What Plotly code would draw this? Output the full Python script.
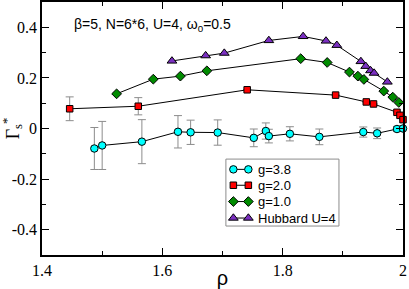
import plotly.graph_objects as go

# g = 3.8 (cyan circles)
rho_g38 = [1.487, 1.500, 1.566, 1.626, 1.647, 1.692, 1.752, 1.772, 1.777, 1.812, 1.861, 1.934, 1.957, 1.990, 2.000]
gam_g38 = [-0.079, -0.067, -0.052, -0.013, -0.015, -0.016, -0.037, -0.010, -0.030, -0.021, -0.033, -0.014, -0.019, -0.002, 0.000]
err_g38 = [0.083, 0.095, 0.087, 0.064, 0.048, 0.050, 0.035, 0.032, 0.027, 0.028, 0.031, 0.020, 0.021, 0.010, 0.010]

# g = 2.0 (red squares)
rho_g20 = [1.446, 1.560, 1.741, 1.888, 1.939, 1.951, 1.990, 1.995, 2.000]
gam_g20 = [0.078, 0.088, 0.153, 0.132, 0.105, 0.097, 0.064, 0.052, 0.035]
err_g20 = [0.047, 0.034, None, None, None, None, None, None, None]

# g = 1.0 (green diamonds)
rho_g10 = [1.524, 1.585, 1.630, 1.674, 1.830, 1.874, 1.911, 1.925, 1.935, 1.968, 1.983, 1.993]
gam_g10 = [0.137, 0.195, 0.207, 0.228, 0.276, 0.261, 0.223, 0.207, 0.194, 0.148, 0.124, 0.103]

# Hubbard U = 4 (violet triangles)
rho_hub = [1.616, 1.672, 1.703, 1.777, 1.834, 1.872, 1.890, 1.930, 1.938, 1.946, 1.952, 1.974]
gam_hub = [0.267, 0.288, 0.298, 0.348, 0.364, 0.346, 0.329, 0.265, 0.246, 0.229, 0.219, 0.184]

series_names = ["g=3.8", "g=2.0", "g=1.0", "Hubbard U=4"]

x_ticks = [1.4, 1.6, 1.8, 2.0]
x_ticklabels = ["1.4", "1.6", "1.8", "2"]
y_ticks = [-0.4, -0.2, 0.0, 0.2, 0.4]
y_ticklabels = ["-0.4", "-0.2", "0", "0.2", "0.4"]

styles = [
    dict(symbol="circle", size=7.5, color="#00FFFF"),
    dict(symbol="square", size=6.5, color="#FF0000"),
    dict(symbol="diamond", size=7.5, color="#008B00"),
    dict(symbol="triangle-up", size=8.5, color="#7A2FC0"),
]
err_style = dict(type="data", visible=True, color="#8c8c8c", thickness=1, width=4)

fig = go.Figure()
data = [
    (rho_g38, gam_g38, err_g38),
    (rho_g20, gam_g20, err_g20),
    (rho_g10, gam_g10, None),
    (rho_hub, gam_hub, None),
]
for (xs, ys, es), name, st in zip(data, series_names, styles):
    kw = {}
    if es is not None:
        kw["error_y"] = dict(array=es, **err_style)
    fig.add_trace(go.Scatter(
        x=xs, y=ys, mode="lines+markers", name=name, showlegend=False,
        line=dict(color="black", width=1),
        marker=dict(symbol=st["symbol"], size=st["size"], color=st["color"],
                    line=dict(color="black", width=1)),
        cliponaxis=False, **kw,
    ))

# ---- hand-built legend (two markers joined by a line, as in the original) ----
leg_x0, leg_x1, leg_y0, leg_y1 = 0.5094, 0.8226, 0.1145, 0.3791
key_xa, key_xb, txt_x = 0.5301, 0.5716, 0.5923
row_y = [0.3385, 0.2757, 0.2113, 0.1461]

fig.add_shape(type="rect", xref="paper", yref="paper",
              x0=leg_x0, x1=leg_x1, y0=leg_y0, y1=leg_y1,
              line=dict(color="#8c8c8c", width=1), fillcolor="white", layer="below")
for name, st, ry in zip(series_names, styles, row_y):
    fig.add_trace(go.Scatter(
        x=[key_xa, key_xb], y=[ry, ry], xaxis="x2", yaxis="y2",
        mode="lines+markers", showlegend=False, hoverinfo="skip",
        line=dict(color="black", width=1),
        marker=dict(symbol=st["symbol"], size=st["size"], color=st["color"],
                    line=dict(color="black", width=1)),
        cliponaxis=False,
    ))
    fig.add_annotation(x=txt_x, y=ry, xref="paper", yref="paper",
                       xanchor="left", yanchor="middle", text=name, showarrow=False,
                       font=dict(family="Liberation Sans", size=13, color="black"))

serif = "Liberation Serif, Times New Roman, serif"
axis_common = dict(
    showline=True, linecolor="black", linewidth=1.5, mirror="ticks",
    ticks="inside", ticklen=7, tickwidth=1, tickcolor="black",
    showgrid=False, zeroline=False, automargin=False,
    tickfont=dict(family=serif, size=16, color="black"),
    minor=dict(ticks="inside", ticklen=4, tickwidth=1, tickcolor="black", showgrid=False),
)

fig.update_layout(
    xaxis=dict(
        range=[1.4, 2.0], tickvals=x_ticks, ticktext=x_ticklabels,
        minor_dtick=0.1, minor_tick0=1.4,
        title=dict(text="ρ", font=dict(family="Liberation Sans", size=20, color="black"), standoff=0),
        **axis_common,
    ),
    yaxis=dict(
        range=[-0.5, 0.5], tickvals=y_ticks, ticktext=y_ticklabels,
        minor_dtick=0.1, minor_tick0=-0.5,
        title=dict(text="Γ<sub>s</sub><sup>*</sup>", font=dict(family=serif, size=18, color="black"), standoff=2),
        **axis_common,
    ),
    xaxis2=dict(overlaying="x", range=[0, 1], visible=False, fixedrange=True),
    yaxis2=dict(overlaying="y", range=[0, 1], visible=False, fixedrange=True),
)

fig.add_annotation(
    x=0.084, y=0.908, xref="paper", yref="paper", xanchor="left", yanchor="middle",
    text="β=5, N=6*6, U=4, ω<sub>0</sub>=0.5", showarrow=False,
    font=dict(family="Liberation Sans", size=14, color="black"),
)

fig.update_layout(
    width=409, height=289,
    margin=dict(l=42, r=5.5, t=2, b=34, autoexpand=False),
    paper_bgcolor="white", plot_bgcolor="white",
    showlegend=False,
)

fig.write_html("out.html", config={"displayModeBar": False},
               post_script="document.body.style.margin='0px';")
